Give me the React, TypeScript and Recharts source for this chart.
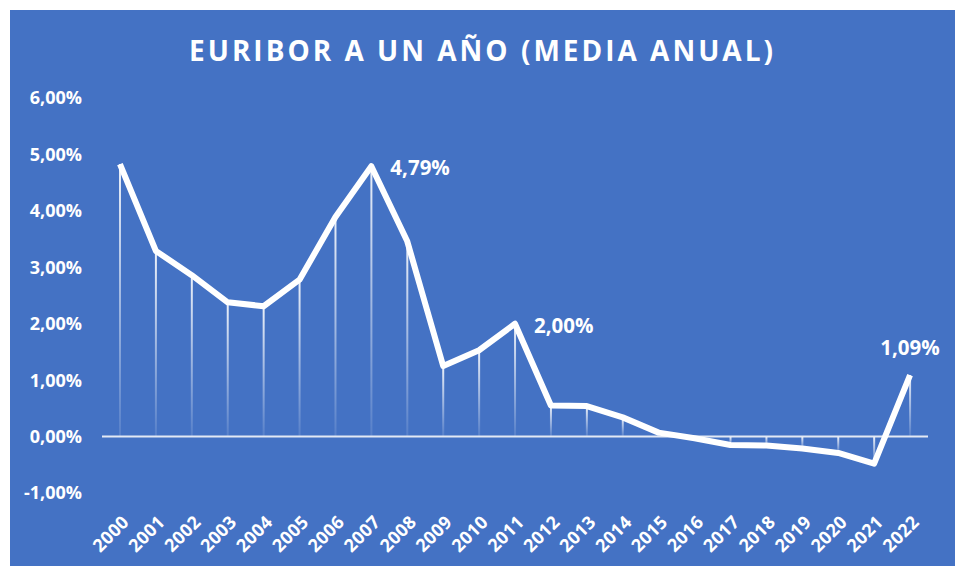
import React from 'react';
import { ComposedChart, Line, Bar, XAxis, YAxis, ReferenceLine, LabelList } from 'recharts';

const years = ['2000', '2001', '2002', '2003', '2004', '2005', '2006', '2007', '2008', '2009', '2010', '2011',
  '2012', '2013', '2014', '2015', '2016', '2017', '2018', '2019', '2020', '2021', '2022'];
const euribor = [4.83, 3.29, 2.86, 2.38, 2.31, 2.78, 3.89, 4.79, 3.46, 1.25, 1.53, 2.0,
  0.55, 0.54, 0.34, 0.07, -0.03, -0.15, -0.16, -0.21, -0.29, -0.48, 1.09];
const yTicks = [-1, 0, 1, 2, 3, 4, 5, 6];
const labelledYears = ['2007', '2011', '2022'];

const data = years.map((year, i) => ({ year, value: euribor[i] }));

const BG = '#4472C4';
const FONT = '"Open Sans", Calibri, sans-serif';

const pct = (v: number) => `${v.toFixed(2).replace('.', ',')}%`;

function YearTick({ x, y, payload }: any) {
  const ax = x + 1;
  return (
    <text
      x={ax}
      y={y}
      dy="0.72em"
      transform={`rotate(-45, ${ax}, ${y})`}
      textAnchor="end"
      fill="#ffffff"
      fontSize={18}
      fontWeight={700}
      letterSpacing={0.3}
      fontFamily={FONT}
    >
      {payload.value}
    </text>
  );
}

function PeakLabel({ x, y, value, index }: any) {
  if (!labelledYears.includes(years[index])) return null;
  const last = index === years.length - 1;
  return (
    <text
      x={last ? x : x + 19}
      y={last ? y - 28 : y + 1}
      textAnchor={last ? 'middle' : 'start'}
      dominantBaseline="central"
      fill="#ffffff"
      fontSize={20.5}
      fontWeight={700}
      fontFamily={FONT}
    >
      {pct(value)}
    </text>
  );
}

export default function App() {
  return (
    <div style={{ position: 'absolute', left: 10, top: 10, width: 945, height: 556, background: BG }}>
      <div
        style={{
          position: 'absolute',
          top: 20,
          left: 0,
          width: 945,
          textAlign: 'center',
          color: '#ffffff',
          fontFamily: FONT,
          fontWeight: 700,
          fontSize: 28,
          letterSpacing: 3,
          lineHeight: '40px',
        }}
      >
        EURIBOR A UN AÑO (MEDIA ANUAL)
      </div>
      <ComposedChart
        width={945}
        height={556}
        data={data}
        margin={{ top: 88, right: 27, left: 0, bottom: 0 }}
        style={{ position: 'absolute', left: 0, top: 0 }}
      >
        <defs>
          <linearGradient id="dropGradient" x1="0" y1="0" x2="0" y2="1">
            <stop offset="0%" stopColor="#ffffff" stopOpacity={0.9} />
            <stop offset="100%" stopColor="#ffffff" stopOpacity={0.1} />
          </linearGradient>
        </defs>
        <XAxis
          dataKey="year"
          height={73}
          axisLine={false}
          tickLine={false}
          tickSize={0}
          tickMargin={21}
          interval={0}
          tick={<YearTick />}
        />
        <YAxis
          width={92}
          domain={[-1, 6]}
          ticks={yTicks}
          axisLine={false}
          tickLine={false}
          tickSize={0}
          tickMargin={20}
          tickFormatter={pct}
          tick={{ fill: '#ffffff', fontSize: 18, fontWeight: 700, fontFamily: FONT }}
        />
        <ReferenceLine y={0} stroke="#e3e9f4" strokeWidth={2} />
        <Bar dataKey="value" barSize={2} fill="url(#dropGradient)" isAnimationActive={false} />
        <Line
          type="linear"
          dataKey="value"
          stroke="#ffffff"
          strokeWidth={6}
          strokeLinejoin="round"
          dot={false}
          activeDot={false}
          isAnimationActive={false}
        >
          <LabelList dataKey="value" content={<PeakLabel />} />
        </Line>
      </ComposedChart>
    </div>
  );
}
